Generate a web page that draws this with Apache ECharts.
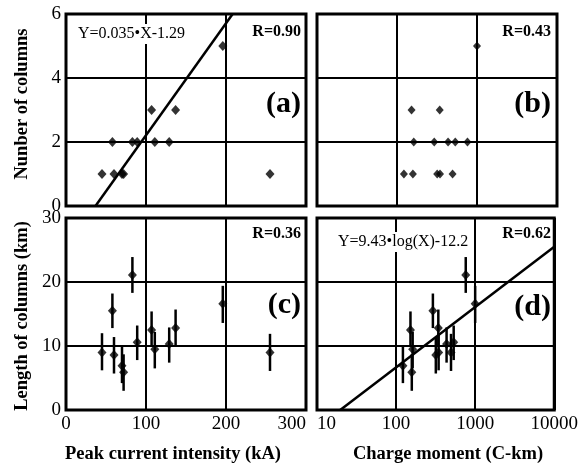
<!DOCTYPE html>
<html>
<head>
<meta charset="utf-8">
<script src="https://cdn.jsdelivr.net/npm/echarts@6/dist/echarts.min.js"></script>
<style>
html,body{margin:0;padding:0;background:#fff;}
#chart{width:581px;height:468px;}
</style>
</head>
<body>
<div id="chart"></div>
<script>
// ---- data (one entry per event) ----
var peakCurrent   = [45, 58, 60, 70, 72, 83, 89, 107, 111, 129, 137, 196, 255];       // kA
var chargeMoment  = [345, 292, 318, 122, 158, 760, 535, 152, 162, 435, 342, 1000, 495]; // C-km
var columnCount   = [1, 2, 1, 1, 1, 2, 2, 3, 2, 2, 3, 5, 1];
var columnLength  = [9.0, 15.5, 8.6, 6.9, 5.9, 21.1, 10.6, 12.5, 9.5, 10.3, 12.8, 16.6, 9.0]; // km
var lengthLow     = [6.2, 12.8, 5.7, 4.2, 3.0, 18.3, 7.8, 9.9, 6.5, 7.4, 10.1, 13.6, 6.1];
var lengthHigh    = [12.0, 18.2, 11.4, 9.9, 8.7, 23.9, 13.2, 15.4, 12.2, 12.9, 15.7, 19.4, 11.9];

// regression fits
var fitA = {slope: 0.035, intercept: -1.29};   // Y = 0.035*X - 1.29
var fitD = {slope: 9.43, intercept: -12.2};    // Y = 9.43*log(X) - 12.2

// axis ranges / ticks
var peakTicks = [0, 100, 200, 300];
var countTicks = [0, 2, 4, 6];
var lengthTicks = [0, 10, 20, 30];
var momentTicks = [10, 100, 1000, 10000];

var FONT = 'Liberation Serif';

function pairs(xs, ys){ return xs.map(function(x,i){ return [x, ys[i]]; }); }
function errData(xs){ return xs.map(function(x,i){ return [x, lengthLow[i], lengthHigh[i]]; }); }

var fitAData = [
  [(countTicks[0] - fitA.intercept) / fitA.slope, countTicks[0]],
  [(countTicks[countTicks.length-1] - fitA.intercept) / fitA.slope, countTicks[countTicks.length-1]]
];
var fitDData = [
  [Math.pow(10, (lengthTicks[0] - fitD.intercept) / fitD.slope), lengthTicks[0]],
  [momentTicks[momentTicks.length-1], fitD.slope * Math.log10(momentTicks[momentTicks.length-1]) + fitD.intercept]
];

var chart = echarts.init(document.getElementById('chart'), null, {renderer: 'canvas'});

var splitStyle = {show: true, lineStyle: {color: '#000', width: 2}};
var labelStyle = {fontFamily: FONT, fontSize: 19, color: '#000'};

function grid(l, t){ return {left: l, top: t, width: 240, height: 192, show: true, borderColor: '#000', borderWidth: 3, backgroundColor: 'transparent'}; }

function valX(gi, showLabel){
  return {gridIndex: gi, type: 'value', min: peakTicks[0], max: peakTicks[peakTicks.length-1], interval: 100,
    axisLine: {show: false}, axisTick: {show: false}, splitLine: splitStyle,
    axisLabel: Object.assign({show: showLabel, margin: 5, alignMaxLabel: 'right'}, labelStyle)};
}
function logX(gi, showLabel){
  return {gridIndex: gi, type: 'log', logBase: 10, min: momentTicks[0], max: momentTicks[momentTicks.length-1],
    axisLine: {show: false}, axisTick: {show: false}, minorTick: {show: false}, minorSplitLine: {show: false}, splitLine: splitStyle,
    axisLabel: Object.assign({show: showLabel, margin: 5, alignMinLabel: 'left',
      formatter: function(v){ return String(Math.round(v)); }}, labelStyle)};
}
function valY(gi, ticks, showLabel){
  return {gridIndex: gi, type: 'value', min: ticks[0], max: ticks[ticks.length-1], interval: ticks[1]-ticks[0],
    axisLine: {show: false}, axisTick: {show: false}, splitLine: splitStyle,
    axisLabel: Object.assign({show: showLabel, margin: 5}, labelStyle)};
}

function errorSeries(xi, yi, xs){
  return {
    type: 'custom', xAxisIndex: xi, yAxisIndex: yi, data: errData(xs), z: 3,
    renderItem: function(params, api){
      var p1 = api.coord([api.value(0), api.value(1)]);
      var p2 = api.coord([api.value(0), api.value(2)]);
      return {type: 'line', shape: {x1: p1[0], y1: p1[1], x2: p2[0], y2: p2[1]},
              style: {stroke: '#000', lineWidth: 2.5}};
    }
  };
}
function scatter(xi, yi, data, size){
  return {type: 'scatter', xAxisIndex: xi, yAxisIndex: yi, data: data, symbol: 'diamond',
    symbolSize: size, itemStyle: {color: '#000'}, z: 4};
}
function fitLine(xi, yi, data){
  return {type: 'line', xAxisIndex: xi, yAxisIndex: yi, data: data, showSymbol: false, clip: true,
    lineStyle: {color: '#000', width: 2.5}, z: 5, silent: true};
}

function txt(x, y, text, size, bold, align, bg){
  var s = {text: text, x: 0, y: 0, fill: '#000', font: (bold ? 'bold ' : '') + size + 'px "' + FONT + '"',
           textAlign: align || 'left', textVerticalAlign: 'middle'};
  if (bg) { s.backgroundColor = '#fff'; s.padding = [2, 2]; }
  return {type: 'text', x: x, y: y, z: 100, style: s};
}
function vtxt(x, y, text){
  return {type: 'text', x: x, y: y, rotation: Math.PI/2, z: 100,
    style: {text: text, x: 0, y: 0, fill: '#000', font: 'bold 18.5px "' + FONT + '"', textAlign: 'center', textVerticalAlign: 'middle'}};
}

chart.setOption({
  animation: false,
  backgroundColor: '#fff',
  grid: [grid(66, 14), grid(317, 14), grid(66, 218), grid(317, 218)],
  xAxis: [valX(0, false), logX(1, false), valX(2, true), logX(3, true)],
  yAxis: [valY(0, countTicks, true), valY(1, countTicks, false), valY(2, lengthTicks, true), valY(3, lengthTicks, false)],
  series: [
    scatter(0, 0, pairs(peakCurrent, columnCount), [9, 10]),
    fitLine(0, 0, fitAData),
    scatter(1, 1, pairs(chargeMoment, columnCount), [8, 9]),
    errorSeries(2, 2, peakCurrent),
    scatter(2, 2, pairs(peakCurrent, columnLength), [9, 10]),
    errorSeries(3, 3, chargeMoment),
    scatter(3, 3, pairs(chargeMoment, columnLength), [9, 10]),
    fitLine(3, 3, fitDData)
  ],
  graphic: [
    txt(76, 34, 'Y=0.035\u2022X-1.29', 16, false, 'left', true),
    txt(301, 32, 'R=0.90', 16, true, 'right'),
    txt(301, 104, '(a)', 30, true, 'right'),
    txt(551, 32, 'R=0.43', 16, true, 'right'),
    txt(551, 104, '(b)', 30, true, 'right'),
    txt(301, 234, 'R=0.36', 16, true, 'right'),
    txt(301, 305, '(c)', 30, true, 'right'),
    txt(336, 242, 'Y=9.43\u2022log(X)-12.2', 16, false, 'left', true),
    txt(551, 234, 'R=0.62', 16, true, 'right'),
    txt(551, 307, '(d)', 30, true, 'right'),
    vtxt(22, 104, 'Nunber of columns'),
    vtxt(22, 316, 'Length of columns (km)'),
    txt(173, 454, 'Peak current intensity (kA)', 18.5, true, 'center'),
    txt(448, 454, 'Charge moment (C-km)', 18.5, true, 'center')
  ]
});
</script>
</body>
</html>
